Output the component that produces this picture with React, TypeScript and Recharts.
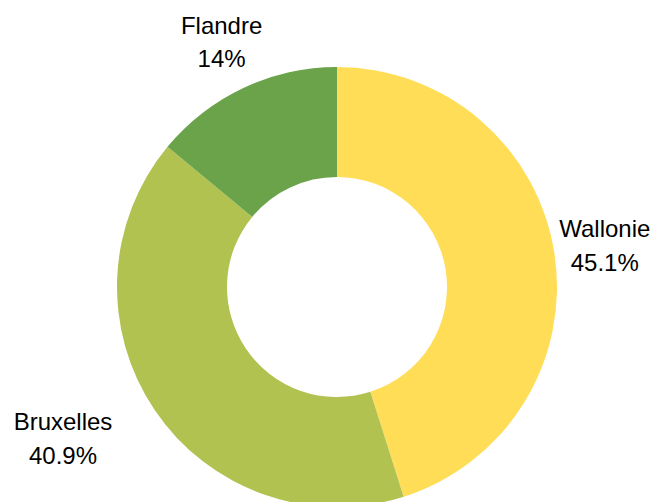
import React from 'react';
import { PieChart, Pie, Cell } from 'recharts';

const regions = ['Wallonie', 'Bruxelles', 'Flandre'];
const shares = [45.1, 40.9, 14];
const colors = ['#FFDD57', '#B2C251', '#6BA34B'];

const data = regions.map((name, i) => ({ name, value: shares[i] }));

const FONT = "'Liberation Sans', Arial, sans-serif";
const FONT_SIZE = 24;
const LINE_GAP = 33.4;
const LABEL_OFFSET = 51;
const RADIAN = Math.PI / 180;

let ctx: CanvasRenderingContext2D | null = null;
const textWidth = (text: string) => {
  if (!ctx) ctx = document.createElement('canvas').getContext('2d');
  if (!ctx) return text.length * FONT_SIZE * 0.5;
  ctx.font = `${FONT_SIZE}px ${FONT}`;
  return ctx.measureText(text).width;
};

interface LabelProps {
  cx: number;
  cy: number;
  midAngle: number;
  outerRadius: number;
  name: string;
  value: number;
}

const renderLabel = ({ cx, cy, midAngle, outerRadius, name, value }: LabelProps) => {
  const r = outerRadius + LABEL_OFFSET;
  const x = cx + r * Math.cos(-midAngle * RADIAN);
  const y = cy + r * Math.sin(-midAngle * RADIAN);
  const pct = `${value}%`;

  // labels in the lower half would run into the ring, so push the block out sideways
  let tx = x;
  if (y > cy) {
    const half = Math.max(textWidth(name), textWidth(pct)) / 2;
    tx = x < cx ? x - half : x + half;
  }

  return (
    <text x={tx} y={y} textAnchor="middle" fill="#000" fontFamily={FONT} fontSize={FONT_SIZE}>
      <tspan x={tx} y={y - LINE_GAP / 2} dominantBaseline="central">
        {name}
      </tspan>
      <tspan x={tx} y={y + LINE_GAP / 2} dominantBaseline="central">
        {pct}
      </tspan>
    </text>
  );
};

const App: React.FC = () => {
  return (
    <div style={{ position: 'absolute', left: 0, top: 0, width: 653, height: 502, background: '#fff' }}>
      <PieChart width={653} height={502} margin={{ top: 0, right: 0, bottom: 0, left: 0 }}>
        <Pie
          data={data}
          dataKey="value"
          nameKey="name"
          cx={337}
          cy={287}
          innerRadius={110}
          outerRadius={220}
          startAngle={90}
          endAngle={-270}
          stroke="none"
          label={renderLabel}
          labelLine={false}
          isAnimationActive={false}
        >
          {data.map((entry, index) => (
            <Cell key={`cell-${entry.name}`} fill={colors[index]} />
          ))}
        </Pie>
      </PieChart>
    </div>
  );
};

export default App;
